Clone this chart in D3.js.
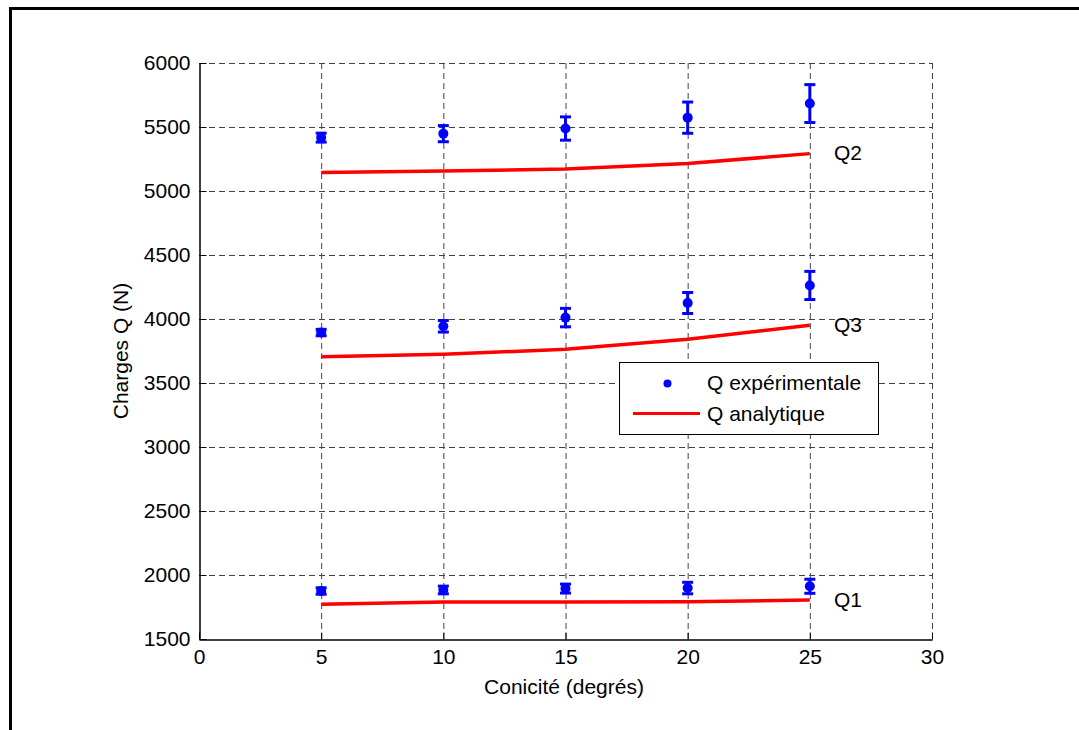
<!DOCTYPE html>
<html><head><meta charset="utf-8">
<script src="https://cdn.jsdelivr.net/npm/d3@7"></script>
<style>body{margin:0;background:#fff}svg{display:block}text{font-family:"Liberation Sans",Arial,sans-serif}</style>
</head><body><svg id="c" width="1079" height="730"></svg>
<script>
const conicite = [5, 10, 15, 20, 25];
const q1Exp = [1875, 1883, 1894, 1898, 1912];
const q1Err = [25, 30, 35, 45, 55];
const q2Exp = [5417, 5448, 5488, 5573, 5683];
const q2Err = [35, 63, 91, 122, 148];
const q3Exp = [3894, 3943, 4011, 4125, 4262];
const q3Err = [25, 45, 72, 82, 110];
const q1Ana = [1771, 1789, 1789, 1791, 1805];
const q2Ana = [5144, 5156, 5172, 5214, 5292];
const q3Ana = [3706, 3724, 3763, 3841, 3951];
const xTicks = [0, 5, 10, 15, 20, 25, 30];
const yTicks = [1500, 2000, 2500, 3000, 3500, 4000, 4500, 5000, 5500, 6000];
const seriesLabels = ["Q1", "Q2", "Q3"];
const legendLabels = ["Q expérimentale", "Q analytique"];

const svg = d3.select("#c");
const fs = 21;
svg.append("rect").attr("x",10.5).attr("y",8.5).attr("width",1200).attr("height",1000)
  .attr("fill","none").attr("stroke","#000").attr("stroke-width",3);

const x = d3.scaleLinear().domain([0,30]).range([199,932]);
const y = d3.scaleLinear().domain([1500,6000]).range([639,63]);

// grid
const g = svg.append("g");
g.selectAll(".gx").data(xTicks.slice(1)).join("line")
  .attr("x1",d=>x(d)+0.5).attr("x2",d=>x(d)+0.5).attr("y1",y(1500)).attr("y2",y(6000))
  .attr("stroke","#444").attr("stroke-dasharray","6,4");
g.selectAll(".gy").data(yTicks.slice(1)).join("line")
  .attr("y1",d=>y(d)+0.5).attr("y2",d=>y(d)+0.5).attr("x1",x(0)).attr("x2",x(30))
  .attr("stroke","#444").attr("stroke-dasharray","6,4");

// axes
const ax = svg.append("g").attr("transform",`translate(0,${y(1500)+0.5})`)
  .call(d3.axisBottom(x).tickValues(xTicks).tickFormat(d3.format("d")).tickSizeInner(-7).tickSizeOuter(0).tickPadding(10));
const ay = svg.append("g").attr("transform",`translate(${x(0)+0.5},0)`)
  .call(d3.axisLeft(y).tickValues(yTicks).tickFormat(d3.format("d")).tickSizeInner(-7).tickSizeOuter(0).tickPadding(9));
[ax,ay].forEach(a=>{
  a.select(".domain").attr("stroke","#000").attr("stroke-width",1.5);
  a.selectAll(".tick line").attr("stroke","#000");
  a.selectAll(".tick text").attr("font-size",fs).attr("fill","#000").attr("font-family","Liberation Sans, Arial, sans-serif");
});

// labels
svg.append("text").attr("x",564).attr("y",694).attr("text-anchor","middle").attr("font-size",fs).text("Conicité (degrés)");
svg.append("text").attr("transform","translate(128,351) rotate(-90)").attr("text-anchor","middle").attr("font-size",fs).text("Charges Q (N)");

// analytic lines
const line = d3.line().x((d,i)=>x(conicite[i])).y(d=>y(d));
[q1Ana,q2Ana,q3Ana].forEach(s=>{
  svg.append("path").attr("d",line(s)).attr("fill","none").attr("stroke","#ff0000").attr("stroke-width",3.5);
});

// experimental with error bars
[[q1Exp,q1Err],[q2Exp,q2Err],[q3Exp,q3Err]].forEach(([v,e])=>{
  const gg = svg.append("g").attr("fill","#0000ff").attr("stroke","#0000ff");
  v.forEach((d,i)=>{
    const cx = x(conicite[i]);
    gg.append("line").attr("x1",cx).attr("x2",cx).attr("y1",y(d-e[i])).attr("y2",y(d+e[i])).attr("stroke-width",3);
    [d-e[i], d+e[i]].forEach(w=>{
      gg.append("line").attr("x1",cx-5.5).attr("x2",cx+5.5).attr("y1",y(w)).attr("y2",y(w)).attr("stroke-width",3);
    });
    gg.append("circle").attr("cx",cx).attr("cy",y(d)).attr("r",5).attr("stroke","none");
  });
});

// series labels
[[q1Ana,0],[q2Ana,1],[q3Ana,2]].forEach(([s,k])=>{
  svg.append("text").attr("x",834).attr("font-size",fs)
    .attr("y",[607,160,332][k]).text(seriesLabels[k]);
});

// legend
const lg = svg.append("g");
lg.append("rect").attr("x",619.5).attr("y",362.5).attr("width",259).attr("height",72)
  .attr("fill","#fff").attr("stroke","#000").attr("stroke-width",1);
lg.append("circle").attr("cx",667.5).attr("cy",383.5).attr("r",4).attr("fill","#0000ff");
lg.append("line").attr("x1",633).attr("x2",700).attr("y1",413.5).attr("y2",413.5).attr("stroke","#ff0000").attr("stroke-width",3);
lg.append("text").attr("x",707).attr("y",390).attr("font-size",fs).text(legendLabels[0]);
lg.append("text").attr("x",707).attr("y",421).attr("font-size",fs).text(legendLabels[1]);
</script></body></html>
